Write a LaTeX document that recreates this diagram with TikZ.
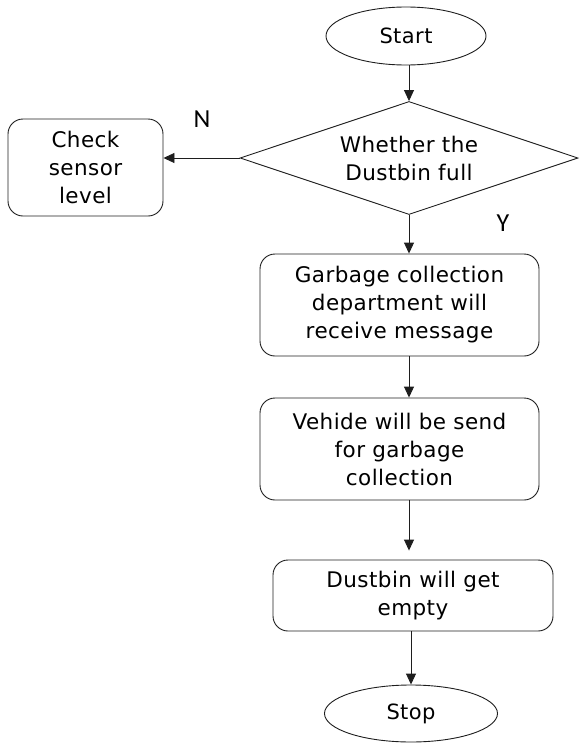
\documentclass[tikz,border=0pt]{standalone}
\usepackage{fontspec}
\setmainfont[LetterSpace=2]{DejaVu Sans}
\newfontfamily\tagfont{Carlito}
\usetikzlibrary{arrows.meta,shapes.geometric}
\definecolor{ink}{RGB}{30,30,30}
\tikzset{
  >={Triangle[length=11pt,width=10pt]},
  term/.style={ellipse,draw=ink,line width=0.9pt,minimum width=#1,minimum height=58pt,
    font=\fontsize{21}{28}\selectfont},
  term/.default=160pt,
  proc/.style={draw=ink,line width=0.9pt,rounded corners=15pt,align=center,
    font=\fontsize{21.5}{28}\selectfont,inner sep=0pt},
  decide/.style={diamond,draw=ink,line width=0.9pt,minimum width=338pt,minimum height=113pt,
    shape aspect=3,inner sep=1pt,align=center,font=\fontsize{21.5}{28}\selectfont},
  flow/.style={->,line width=0.9pt,draw=ink},
  tag/.style={font=\tagfont\fontsize{26}{28}\selectfont,text=black},
}
\begin{document}
\begin{tikzpicture}[x=1pt,y=-1pt]
  \useasboundingbox (0,0) rectangle (579,744);
  \node[term] (start) at (406,36) {Start};
  \node[decide] (test) at (409,158) {Whether the\\Dustbin full};
  \node[proc,minimum width=155pt,minimum height=97pt] (check) at (85.5,167.5) {Check\\sensor\\level};
  \node[proc,minimum width=279pt,minimum height=102pt] (garbage) at (399.5,305) {Garbage collection\\department will\\receive message};
  \node[proc,minimum width=279pt,minimum height=102pt] (vehicle) at (399.5,449) {Vehide will be send\\for garbage\\collection};
  \node[proc,minimum width=280pt,minimum height=71pt] (empty) at (413,595.5) {Dustbin will get\\empty};
  \node[term=173pt,minimum height=57pt] (stop) at (411,713.5) {Stop};
  \node[tag] (no) at (202,119) {N};
  \node[tag] (yes) at (503,223) {Y};

  \draw[flow] (start.south -| test.north) -- (test.north);
  \draw[flow] (test.west) -- (test.west -| check.east);
  \draw[flow] (test.south) -- (test.south |- garbage.north);
  \draw[flow] (test.south |- garbage.south) -- (test.south |- vehicle.north);
  \draw[flow,shorten >=9pt] (test.south |- vehicle.south) -- (test.south |- empty.north);
  \draw[flow] (stop.north |- empty.south) -- (stop.north);
\end{tikzpicture}
\end{document}
